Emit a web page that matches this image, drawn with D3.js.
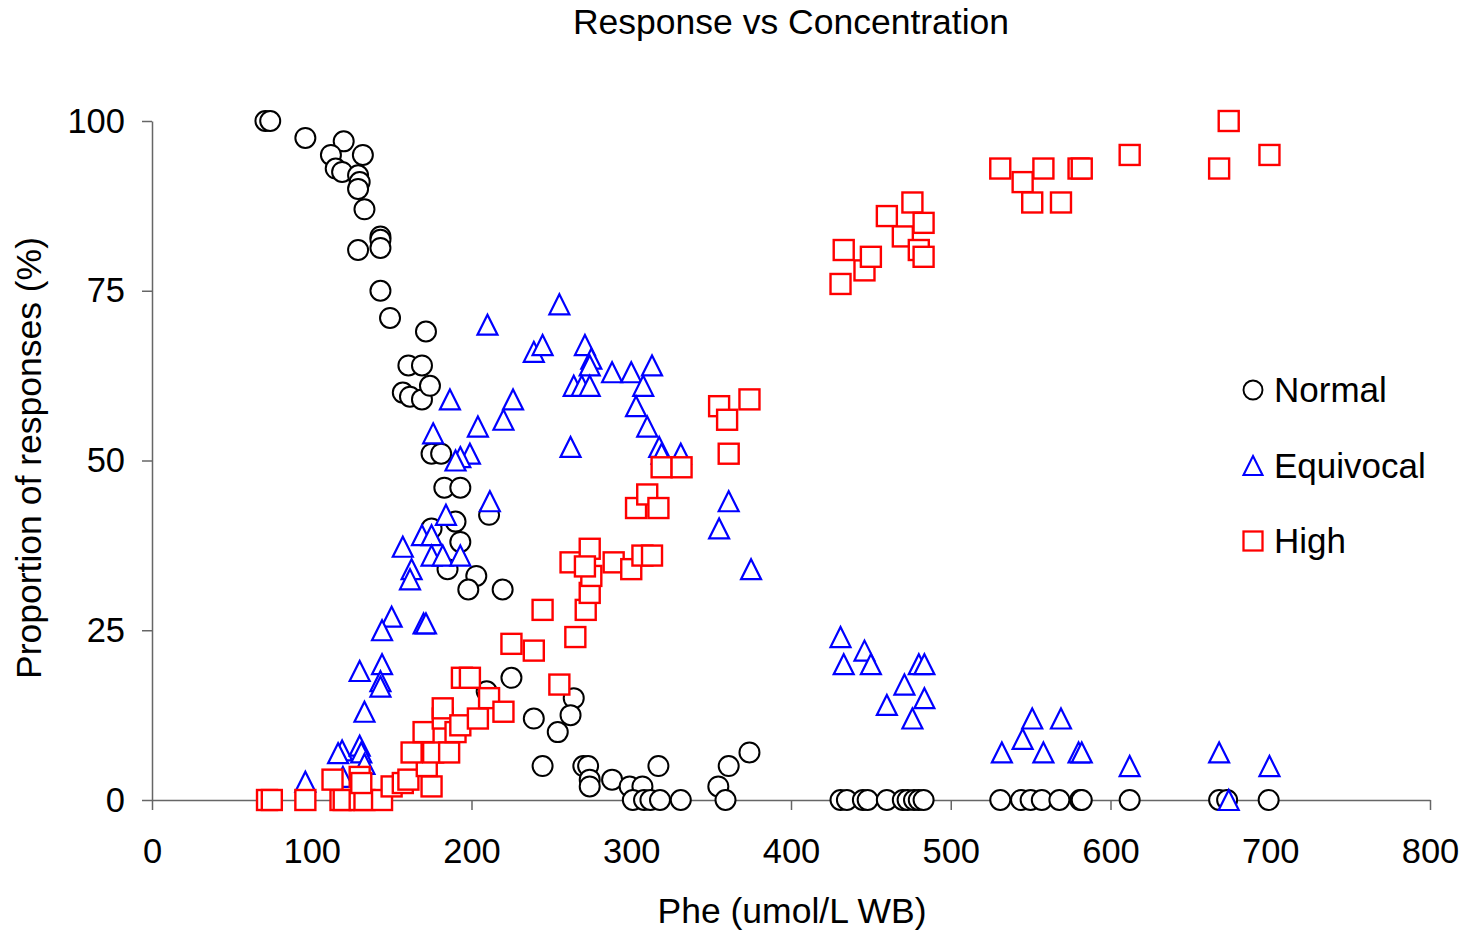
<!DOCTYPE html>
<html><head><meta charset="utf-8">
<script src="https://cdn.jsdelivr.net/npm/d3@7"></script>
<style>body{margin:0;background:#fff}text{font-family:"Liberation Sans",Arial,sans-serif}</style>
</head><body>
<svg id="chart" width="1468" height="933"></svg>
<script>
const seriesNames = ["Normal", "Equivocal", "High"];
const xTicks = [0, 100, 200, 300, 400, 500, 600, 700, 800];
const yTicks = [0, 25, 50, 75, 100];

const normalX = [71,74,96,120,112,132,115,119,129,130,129,133,143,143,143,129,143,149,171.5,160.5,169,157,161.5,169,174,175,181,183,193,211,190,175,193,185,203,198,219.5,225,209.5,264,239,262,254,244.5,270,273,274,274,288,299,307,317,301,308,312,318,331,361,354.5,374,359,431,435,445,448,460,470,473,477,480,483,531,544,550,557,568,581,582,612,668,673,699];
const normalY = [100,100,97.5,97,95,95,93,92.5,92,91,90,87,83,82.5,81.3,81,75,71,69,64,64,60,59.4,59,61,51,51,46,46,42,41,40,38,34,33,31,31,18,16,15,12,12.5,10,5,5,5,3,2,3,2,2,5,0,0,0,0,0,5,2,7,0,0,0,0,0,0,0,0,0,0,0,0,0,0,0,0,0,0,0,0,0,0];

const equivX = [210,255,239,244.5,271,275,274,288,300,313,264,269,274,307.5,303,310,317.5,319,331,262,186.5,226,220,204,199,211.5,361,355,375,176,193,190,184,169,175,157,175,182,193,162.5,161.5,150,144,170,171.5,130,144,143,143,133,119,116.5,130,131,133,96,119.5,431,446,433,450,480,483.5,471,483.5,460,476,551,569,545,532,558,580,582,612,668,699.5,674];
const equivY = [70,73,66,67,67,65,64,63,63,64,61,61,61,61,58,55,52,51,51,52,59,59,56,55,51,44,44,40,34,54,50.5,50,42,39,39,37.3,36,36,36,34,32.5,27,25,26,26,19,20,17.5,16.7,13,7.3,6.9,8,7,5.3,2.7,3.4,24,22,20,20,20,20,17,15,14,12,12,12,9,7,7,7,7,5,7,5,0];

const highX = [72,75,96,118,120,130,133,144,113,130,131,150,157,160.5,175,172,162.5,176,186,170,182,182,190,193,204,211,220,194,199,225,255,239,265,244.5,271.5,274,275,262,274,271,289,300,307,313,303,310,317,319,331.5,355,374,360,361,431,433,446,450,460,476,470,483,480,483,531,545,558,551,569,580,582,612,668,674,699.5];
const highY = [0,0,0,0,0,0,0,0,3,3.4,2.5,2,2.5,3,2,5,7,7,7,10,12,13.5,10,11,12,15,13,18,18,23,17,22,24,28,28,30.5,33,35,37,34.4,35,34,36,36,43,45,43,49,49,58,59,56,51,76,81,78,80,86,88,83,85,81,80,93,91,93,88,88,93,93,95,93,100,95];

const svg = d3.select("#chart");
const x = d3.scaleLinear().domain([0, 800]).range([152, 1430]);
const y = d3.scaleLinear().domain([0, 100]).range([800, 121]);
const FS = 34.5;
const TFS = 35.5;

// axes
const gx = svg.append("g").attr("transform", `translate(0,${y(0)})`)
  .call(d3.axisBottom(x).tickValues(xTicks).tickSize(10).tickSizeOuter(0));
gx.select(".domain").attr("stroke", "#666").attr("stroke-width", 1.5);
gx.selectAll(".tick line").attr("stroke", "#666").attr("stroke-width", 1.5);
gx.selectAll(".tick text").attr("y", 39).attr("font-size", FS).attr("fill", "#000");

const gy = svg.append("g").attr("transform", `translate(${x(0)},0)`)
  .call(d3.axisLeft(y).tickValues(yTicks).tickSize(10).tickSizeOuter(0));
gy.select(".domain").attr("stroke", "#666").attr("stroke-width", 1.5);
gy.selectAll(".tick line").attr("stroke", "#666").attr("stroke-width", 1.5);
gy.selectAll(".tick text").attr("x", -27).attr("font-size", FS).attr("fill", "#000");
svg.selectAll(".tick text").attr("font-family", '"Liberation Sans",Arial,sans-serif');

// titles
svg.append("text").attr("x", 791).attr("y", 34).attr("text-anchor", "middle")
  .attr("font-size", TFS).text("Response vs Concentration");
svg.append("text").attr("x", 792).attr("y", 923).attr("text-anchor", "middle")
  .attr("font-size", TFS).text("Phe (umol/L WB)");
svg.append("text").attr("transform", "translate(41,458) rotate(-90)").attr("text-anchor", "middle")
  .attr("font-size", TFS).text("Proportion of responses (%)");

// marker generators
const R = 10;
function drawMarker(sel, type, color) {
  if (type === "circle") {
    sel.append("circle").attr("r", R).attr("fill", "#fff").attr("stroke", color).attr("stroke-width", 2);
  } else if (type === "triangle") {
    sel.append("path").attr("d", `M0,${-R}L${R},${R}L${-R},${R}Z`).attr("fill", "#fff").attr("stroke", color).attr("stroke-width", 2.2);
  } else {
    sel.append("rect").attr("x", -R).attr("y", -R).attr("width", 2*R).attr("height", 2*R).attr("fill", "#fff").attr("stroke", color).attr("stroke-width", 2.4);
  }
}
const series = [
  {name: seriesNames[0], xs: normalX, ys: normalY, type: "circle", color: "#000"},
  {name: seriesNames[1], xs: equivX, ys: equivY, type: "triangle", color: "#0000ff"},
  {name: seriesNames[2], xs: highX, ys: highY, type: "square", color: "#ff0000"}
];
series.forEach(s => {
  const pts = s.xs.map((v, i) => [v, s.ys[i]]);
  const g = svg.append("g");
  g.selectAll("g").data(pts).join("g")
    .attr("transform", d => `translate(${x(d[0])},${y(d[1])})`)
    .each(function() { drawMarker(d3.select(this), s.type, s.color); });
});

// legend
const legend = svg.append("g");
series.forEach((s, i) => {
  const row = legend.append("g").attr("transform", `translate(1253,${390 + i * 75.5})`);
  const m = row.append("g").attr("transform", "scale(0.95)");
  drawMarker(m, s.type, s.color);
  row.append("text").attr("x", 21).attr("y", 0).attr("dy", "0.35em").attr("font-size", 35).text(s.name);
});
</script>
</body></html>
